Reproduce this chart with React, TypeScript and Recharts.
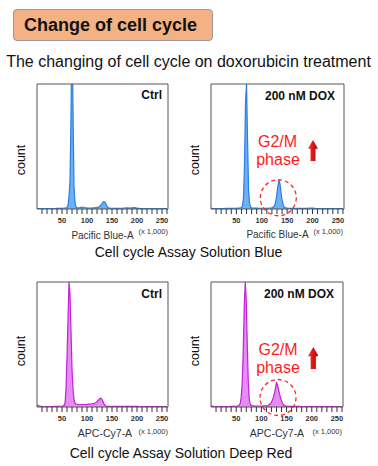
import { Area, AreaChart, ReferenceArea, ReferenceDot, XAxis, YAxis } from "recharts";

// bin centres (x 1,000)
const bins = [
  0, 5, 10, 15, 20, 25, 30, 35, 40, 45,
  50, 52, 54, 56, 58, 60, 62, 64, 66, 68, 70, 72, 74, 76, 78, 80, 82, 84, 86, 88, 90,
  95, 100, 105,
  110, 112, 114, 116, 118, 120, 122, 124, 126, 128, 130, 132, 134, 136, 138, 140, 142, 144, 146, 148, 150, 152, 154, 156,
  160, 165, 170, 175, 180, 185, 190, 195, 200, 205, 210, 215, 220, 225, 230, 235, 240, 245, 250, 255, 260,
];

// counts, % of panel height
const blueCtrl = [
  0.3, 0.3, 0.3, 0.3, 0.3, 0.4, 0.4, 0.4, 0.5, 0.5,
  0.6, 0.6, 0.7, 0.8, 0.9, 1.2, 3, 10, 22, 75, 150, 80, 18, 5, 1.6, 1, 0.9, 0.9, 1, 1.4, 1.6,
  1.2, 0.9, 0.8,
  0.8, 0.9, 1, 1, 1.2, 1.3, 1.5, 1.8, 2.3, 3.2, 4.3, 5.4, 5.9, 5.5, 4, 2.3, 1.2, 0.8, 0.7, 0.6, 0.6, 0.5, 0.5, 0.5,
  0.5, 0.5, 0.6, 0.8, 1, 0.7, 0.9, 1.1, 0.7, 0.5, 0.4, 0.4, 0.3, 0.3, 0.3, 0.3, 0.3, 0.3, 0.3, 0.3, 0.3,
];
const blueDox = [
  0.5, 0.4, 0.4, 0.4, 0.4, 0.4, 0.5, 0.5, 0.5, 0.6,
  0.6, 0.7, 0.7, 0.8, 0.9, 1.2, 2.5, 9, 35, 85, 100, 55, 15, 4.5, 1.5, 1, 0.8, 0.7, 0.7, 0.7, 0.7,
  0.6, 0.6, 0.6,
  0.6, 0.6, 0.7, 0.7, 0.8, 1, 1.3, 2, 3.5, 7, 13, 19, 23, 20, 13, 7, 3.5, 1.8, 1.1, 0.8, 0.7, 0.6, 0.6, 0.5,
  0.5, 0.5, 0.5, 0.5, 0.5, 0.5, 0.6, 0.8, 0.7, 0.5, 0.4, 0.4, 0.3, 0.3, 0.3, 0.3, 0.3, 0.3, 0.3, 0.3, 0.3,
];
const redCtrl = [
  1.5, 0.8, 0.5, 0.4, 0.4, 0.4, 0.4, 0.5, 0.5, 0.6,
  0.7, 0.8, 1.2, 3, 14, 40, 70, 100, 90, 60, 30, 14, 6, 3, 2.4, 2.2, 2, 2, 2, 2, 2,
  2, 2.1, 2.3,
  2.5, 2.7, 2.9, 3.2, 3.6, 4.2, 5, 6, 6.8, 7, 6, 4.3, 2.5, 1.3, 0.8, 0.6, 0.5, 0.5, 0.5, 0.5, 0.5, 0.5, 0.5, 0.5,
  0.5, 0.5, 0.5, 0.5, 0.5, 0.5, 0.5, 0.5, 0.5, 0.4, 0.3, 0.3, 0.3, 0.3, 0.3, 0.3, 0.3, 0.3, 0.3, 0.3, 0.3,
];
const redDox = [
  1, 0.6, 0.4, 0.4, 0.4, 0.4, 0.4, 0.4, 0.5, 0.5,
  0.6, 0.7, 0.9, 1.5, 3, 8, 20, 45, 80, 100, 85, 50, 20, 6, 2.2, 1.3, 1, 0.9, 0.8, 0.8, 0.8,
  0.8, 0.8, 0.9,
  1, 1.2, 1.5, 2, 2.8, 4, 5.5, 8, 11, 15, 20, 17, 14, 10.5, 7.5, 5, 3, 1.8, 1.1, 0.8, 0.7, 0.6, 0.5, 0.5,
  0.5, 0.5, 0.5, 0.5, 0.4, 0.4, 0.4, 0.4, 0.4, 0.3, 0.3, 0.3, 0.3, 0.3, 0.3, 0.3, 0.3, 0.3, 0.3, 0.3, 0.3,
];

const xTicks = [10, 20, 30, 40, 50, 60, 70, 80, 90, 100, 110, 120, 130, 140, 150, 160, 170, 180, 190, 200, 210, 220, 230, 240, 250, 260];

const font = '"Liberation Sans", Arial, sans-serif';
const BLUE = ["#2A7DE8", "#6EB0F2"];
const MAGENTA = ["#C61EDA", "#E58DF1"];

function Txt({ x, y, size, children, bold, color = "#111", align = "center", rotate = false }: any) {
  const tx = align === "end" ? "-100%" : "-50%";
  return (
    <div
      style={{
        position: "absolute",
        left: x,
        top: y,
        transform: `translate(${tx},-50%)${rotate ? " rotate(-90deg)" : ""}`,
        fontSize: size,
        lineHeight: 1,
        fontWeight: bold ? "bold" : "normal",
        color,
        whiteSpace: "nowrap",
      }}
    >
      {children}
    </div>
  );
}

function Histo({ x, y, w, h, values, colors, circle }: any) {
  const data = bins.map((b, i) => ({ x: b, c: values[i] }));
  return (
    <div style={{ position: "absolute", left: x - 2, top: y - 2 }}>
      <AreaChart width={w + 4} height={h + 30} data={data} margin={{ top: 2, right: 2, bottom: 0, left: 2 }}>
        <XAxis
          dataKey="x"
          type="number"
          domain={[0, 262]}
          allowDataOverflow
          ticks={xTicks}
          interval={0}
          tickFormatter={(v) => (v % 50 === 0 ? `${v}` : "")}
          tickSize={5}
          tickMargin={4}
          axisLine={false}
          tickLine={{ stroke: "#333" }}
          tick={{ fontSize: 7.5, fill: "#333", fontWeight: "bold", fontFamily: font }}
          height={28}
        />
        <YAxis hide domain={[0, 100]} allowDataOverflow />
        <Area
          type="linear"
          dataKey="c"
          stroke={colors[0]}
          strokeWidth={1.2}
          fill={colors[1]}
          fillOpacity={1}
          dot={false}
          activeDot={false}
          isAnimationActive={false}
        />
        <ReferenceArea x1={0} x2={262} y1={0} y2={100} fill="none" stroke="#555" strokeWidth={1} />
        {circle && (
          <ReferenceDot
            x={circle[0]}
            y={circle[1]}
            r={18}
            fill="none"
            stroke="#FF2A2A"
            strokeWidth={1.3}
            strokeDasharray="4 3"
            ifOverflow="visible"
          />
        )}
      </AreaChart>
    </div>
  );
}

function Arrow({ x, y, w, h }: any) {
  const head = h * 0.42;
  const shaft = w * 0.5;
  return (
    <svg style={{ position: "absolute", left: x, top: y }} width={w} height={h}>
      <defs>
        <linearGradient id={`ag${y}`} x1="0" y1="0" x2="1" y2="0">
          <stop offset="0" stopColor="#FF3030" />
          <stop offset="1" stopColor="#B00000" />
        </linearGradient>
      </defs>
      <polygon
        points={`${w / 2},0 ${w},${head} ${(w + shaft) / 2},${head} ${(w + shaft) / 2},${h} ${(w - shaft) / 2},${h} ${(w - shaft) / 2},${head} 0,${head}`}
        fill={`url(#ag${y})`}
      />
    </svg>
  );
}

export default function App() {
  return (
    <div
      style={{
        position: "absolute",
        left: 0,
        top: 0,
        width: 378,
        height: 466,
        background: "#fff",
        fontFamily: font,
        overflow: "hidden",
      }}
    >
      <div
        style={{
          position: "absolute",
          left: 13,
          top: 9,
          width: 200,
          height: 32,
          boxSizing: "border-box",
          border: "1px solid #9a9a9a",
          borderRadius: 4,
          background: "#F4B183",
          fontSize: 18,
          fontWeight: "bold",
          lineHeight: "30px",
          paddingLeft: 10,
          color: "#111",
        }}
      >
        Change of cell cycle
      </div>
      <Txt x={188.5} y={62} size={16}>The changing of cell cycle on doxorubicin treatment</Txt>

      <Histo x={37} y={84} w={131} h={125} values={blueCtrl} colors={BLUE} />
      <Histo x={211} y={84} w={133} h={125} values={blueDox} colors={BLUE} circle={[132.6, 9]} />
      <Histo x={37} y={282} w={131} h={125} values={redCtrl} colors={MAGENTA} />
      <Histo x={211} y={282} w={132} h={125} values={redDox} colors={MAGENTA} circle={[133, 7.6]} />

      <Txt x={162} y={95} size={12} bold align="end">Ctrl</Txt>
      <Txt x={335} y={96} size={12} bold align="end">200 nM DOX</Txt>
      <Txt x={162} y={294} size={12} bold align="end">Ctrl</Txt>
      <Txt x={334} y={294} size={12} bold align="end">200 nM DOX</Txt>

      <Txt x={20.5} y={160} size={12.5} rotate>count</Txt>
      <Txt x={194.5} y={160} size={12.5} rotate>count</Txt>
      <Txt x={20.5} y={351} size={12.5} rotate>count</Txt>
      <Txt x={194.5} y={351} size={12.5} rotate>count</Txt>

      <Txt x={102.5} y={236} size={10} color="#333">Pacific Blue-A</Txt>
      <Txt x={277.5} y={235} size={10} color="#333">Pacific Blue-A</Txt>
      <Txt x={105} y={433} size={10.5} color="#333">APC-Cy7-A</Txt>
      <Txt x={277} y={433} size={10.5} color="#333">APC-Cy7-A</Txt>
      <Txt x={168} y={232} size={7.5} color="#333" align="end">(x 1,000)</Txt>
      <Txt x={343} y={232} size={7.5} color="#333" align="end">(x 1,000)</Txt>
      <Txt x={168} y={432} size={7.5} color="#333" align="end">(x 1,000)</Txt>
      <Txt x={342} y={432} size={7.5} color="#333" align="end">(x 1,000)</Txt>

      <Txt x={277.5} y={142} size={16} color="#FF1A1A">G2/M</Txt>
      <Txt x={278} y={160} size={16} color="#FF1A1A">phase</Txt>
      <Txt x={278} y={350} size={16} color="#FF1A1A">G2/M</Txt>
      <Txt x={278} y={368} size={16} color="#FF1A1A">phase</Txt>
      <Arrow x={308} y={140} w={10} h={21} />
      <Arrow x={307.5} y={347} w={10.5} h={22} />

      <Txt x={188.5} y={252} size={14}>Cell cycle Assay Solution Blue</Txt>
      <Txt x={181} y={453} size={14}>Cell cycle Assay Solution Deep Red</Txt>
    </div>
  );
}
